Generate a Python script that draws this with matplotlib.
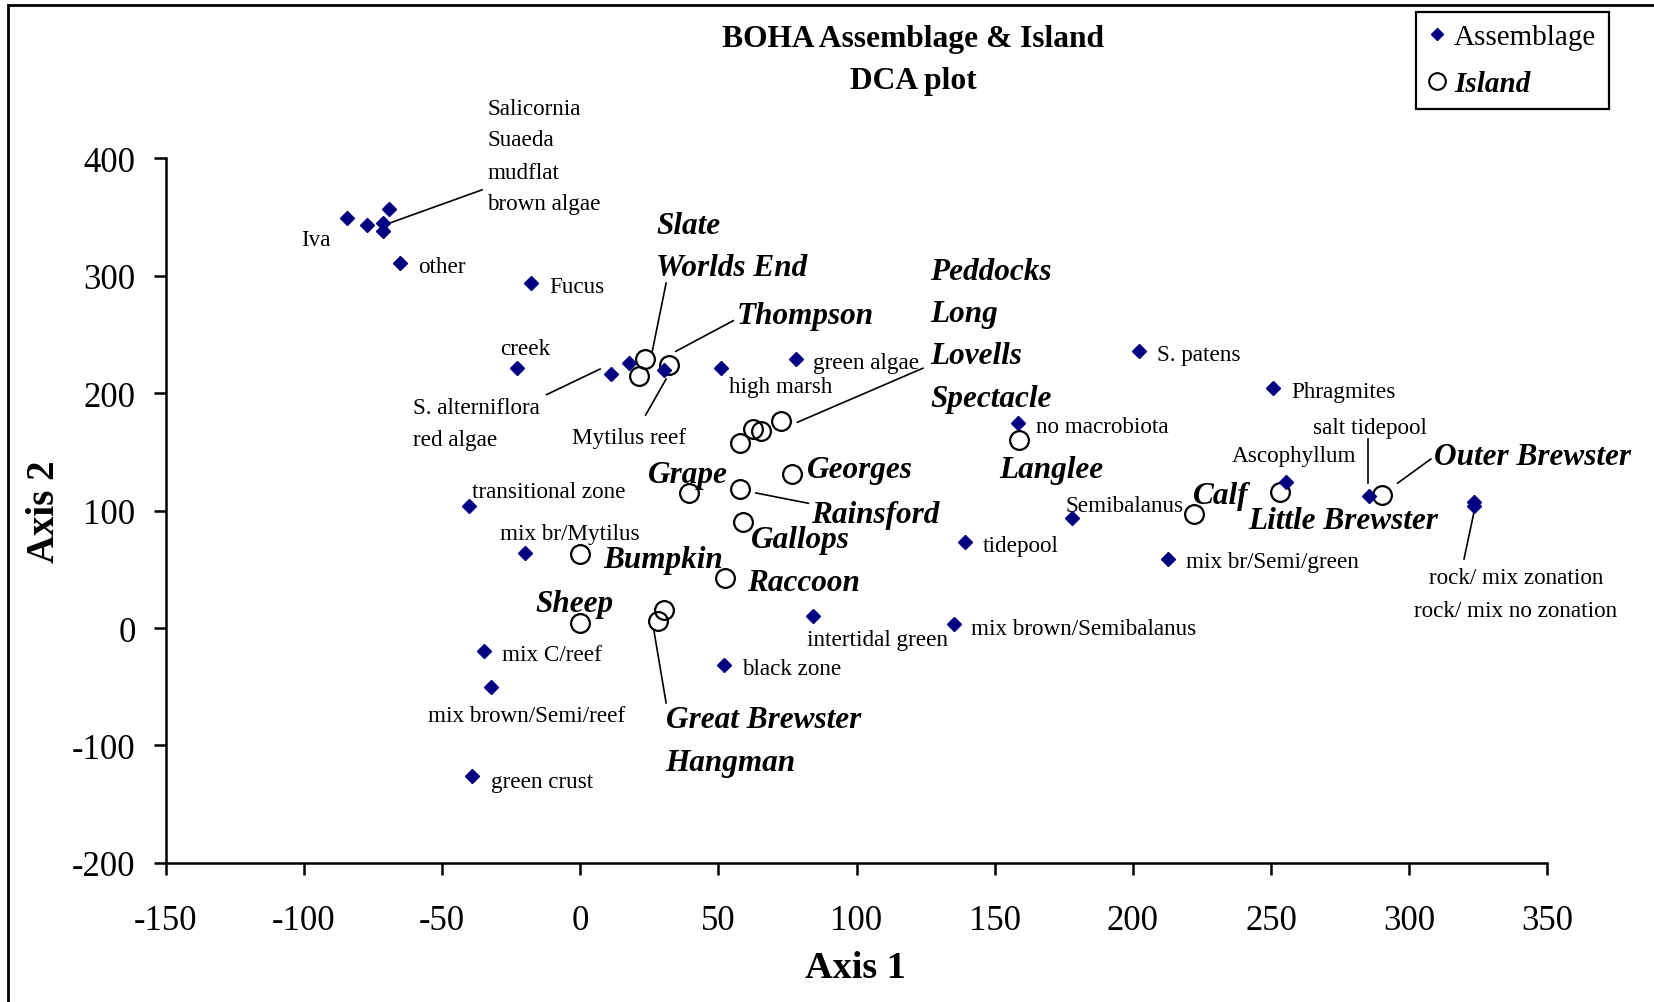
import matplotlib
matplotlib.use("Agg")
import matplotlib.pyplot as plt
import matplotlib.transforms as mtransforms
from matplotlib.lines import Line2D
from matplotlib.patches import Rectangle

plt.rcParams['font.family'] = ['Liberation Serif', 'DejaVu Serif']
plt.rcParams['axes.unicode_minus'] = False

# DCA scores
assemblage_names = ['Iva', 'Salicornia', 'Suaeda', 'mudflat', 'brown algae', 'other',
                    'Fucus', 'creek', 'S. alterniflora', 'red algae', 'Mytilus reef',
                    'high marsh', 'green algae', 'no macrobiota', 'S. patens', 'Phragmites',
                    'Ascophyllum', 'salt tidepool', 'rock/ mix zonation',
                    'rock/ mix no zonation', 'Semibalanus', 'mix br/Semi/green', 'tidepool',
                    'mix brown/Semibalanus', 'intertidal green', 'black zone',
                    'transitional zone', 'mix br/Mytilus', 'mix C/reef',
                    'mix brown/Semi/reef', 'green crust']
assemblage_x = [-84.4, -77.1, -69.1, -71.4, -71.4, -65.3, -17.6, -22.9, 11.1, 17.6, 30.2,
                51.1, 78.2, 158.4, 202.3, 250.8, 255.3, 285.5, 323.3, 323.3, 177.9, 212.6,
                139.3, 135.1, 84.4, 51.9, -40.1, -19.8, -34.7, -32.1, -39.3]
assemblage_y = [348.8, 343.4, 356.9, 345.2, 338.0, 311.0, 294.0, 221.3, 215.9, 225.7, 219.5,
                221.3, 229.3, 174.5, 235.6, 204.2, 124.2, 112.6, 107.2, 103.6, 93.7, 58.7,
                73.0, 3.0, 10.2, -31.2, 103.6, 64.1, -19.5, -50.0, -126.4]

island_names = ['Slate', 'Worlds End', 'Thompson', 'Peddocks', 'Long', 'Lovells', 'Spectacle',
                'Langlee', 'Georges', 'Grape', 'Rainsford', 'Gallops', 'Bumpkin', 'Raccoon',
                'Sheep', 'Great Brewster', 'Hangman', 'Calf', 'Little Brewster',
                'Outer Brewster']
island_x = [23.3, 21.4, 32.1, 58.0, 62.6, 65.3, 72.5, 158.8, 76.7, 39.3, 58.0, 58.8, 0.0,
            52.3, 0.0, 30.5, 28.2, 222.1, 253.1, 290.1]
island_y = [229.3, 215.0, 224.0, 157.5, 169.2, 167.4, 176.3, 160.2, 131.4, 115.3, 118.0,
            90.1, 63.2, 42.5, 3.9, 15.6, 5.7, 97.3, 116.2, 113.5]

# label placement (data coords, left aligned unless noted)
assemblage_labels = [
    ('Iva', -100.8, 333.0, 'left'),
    ('Salicornia', -33.6, 444.9, 'left'),
    ('Suaeda', -33.6, 418.0, 'left'),
    ('mudflat', -33.6, 390.1, 'left'),
    ('brown algae', -33.6, 363.2, 'left'),
    ('other', -58.8, 310.2, 'left'),
    ('Fucus', -11.1, 293.1, 'left'),
    ('creek', -29.0, 240.1, 'left'),
    ('S. alterniflora', -60.3, 189.8, 'left'),
    ('red algae', -60.3, 162.9, 'left'),
    ('Mytilus reef', -3.1, 164.7, 'left'),
    ('high marsh', 53.8, 207.8, 'left'),
    ('green algae', 84.4, 228.4, 'left'),
    ('no macrobiota', 164.9, 173.6, 'left'),
    ('S. patens', 208.8, 234.7, 'left'),
    ('Phragmites', 257.3, 203.3, 'left'),
    ('salt tidepool', 265.3, 172.7, 'left'),
    ('Ascophyllum', 235.9, 148.7, 'left'),
    ('Semibalanus', 175.6, 106.5, 'left'),
    ('mix br/Semi/green', 219.1, 58.7, 'left'),
    ('tidepool', 145.8, 72.1, 'left'),
    ('rock/ mix zonation', 338.5, 45.2, 'center'),
    ('rock/ mix no zonation', 338.5, 17.4, 'center'),
    ('transitional zone', -39.3, 118.0, 'left'),
    ('mix br/Mytilus', -29.0, 82.4, 'left'),
    ('intertidal green', 82.1, -7.8, 'left'),
    ('mix brown/Semibalanus', 141.6, 2.1, 'left'),
    ('black zone', 58.4, -32.1, 'left'),
    ('mix C/reef', -28.2, -20.4, 'left'),
    ('mix brown/Semi/reef', -55.0, -72.5, 'left'),
    ('green crust', -32.4, -128.2, 'left'),
]
island_labels = [
    ('Slate', 27.5, 345.2), ('Worlds End', 27.5, 309.3), ('Thompson', 56.5, 268.0),
    ('Peddocks', 126.7, 305.7), ('Long', 126.7, 269.8), ('Lovells', 126.7, 233.8),
    ('Spectacle', 126.7, 197.9), ('Georges', 82.1, 136.8), ('Grape', 24.4, 133.2),
    ('Langlee', 151.5, 136.8), ('Rainsford', 83.6, 99.1), ('Gallops', 61.8, 77.5),
    ('Bumpkin', 8.4, 60.5), ('Raccoon', 60.3, 40.7), ('Sheep', -16.0, 22.7),
    ('Great Brewster', 30.9, -76.1), ('Hangman', 30.9, -112.0), ('Calf', 221.8, 115.3),
    ('Little Brewster', 241.6, 93.7), ('Outer Brewster', 308.8, 148.5),
]
leaders = [
    ((-35.5, -70.6), (373.1, 343.4)),
    ((-12.1, 7.2), (198.8, 220.5)),
    ((31.1, 26.1), (293.7, 235.6)),
    ((55.4, 34.6), (261.7, 235.6)),
    ((31.1, 23.7), (212.0, 181.4)),
    ((78.6, 124.0), (175.2, 221.2)),
    ((63.6, 82.6), (115.0, 106.2)),
    ((26.7, 31.1), (-2.3, -63.8)),
    ((285.0, 285.0), (161.0, 123.4)),
    ((295.8, 307.8), (123.4, 143.9)),
    ((323.4, 319.8), (98.6, 58.8)),
]

fig = plt.figure(figsize=(16.54, 10.03), dpi=100)
ax = fig.add_axes([0.1001, 0.1387, 0.8355, 0.7025])

ax.plot(island_x, island_y, 'o', ms=13.5, mfc='none', mec='black', mew=1.6, zorder=3)
ax.plot(assemblage_x, assemblage_y, 'D', ms=6.8, color='#000080', mec='#000080', zorder=4)

for xs, ys in leaders:
    ax.plot(xs, ys, color='black', lw=1.2, zorder=2)

# labels sit a touch lower than the bbox centre
nudge = ax.transData + mtransforms.ScaledTranslation(0, -2.5 / 100, fig.dpi_scale_trans)
for txt, x, y, ha in assemblage_labels:
    ax.text(x, y, txt, fontsize=16.7, ha=ha, va='center', transform=nudge)
for txt, x, y in island_labels:
    ax.text(x, y, txt, fontsize=22.5, fontweight='bold', style='italic', ha='left',
            va='center', transform=nudge)

ax.set_xlim(-150, 350)
ax.set_ylim(-200, 400)
ax.set_xticks(range(-150, 351, 50))
ax.set_yticks(range(-200, 401, 100))
ax.spines['top'].set_visible(False)
ax.spines['right'].set_visible(False)
for s in ['left', 'bottom']:
    ax.spines[s].set_linewidth(1.8)
ax.tick_params(axis='both', direction='out', length=8.6, width=1.8, labelsize=25)
ax.tick_params(axis='x', pad=21)
ax.tick_params(axis='y', pad=13)

fig.text(855 / 1654, 1 - 969 / 1003, 'Axis 1', fontsize=27.5, fontweight='bold',
         ha='center', va='center')
fig.text(45 / 1654, 1 - 512 / 1003, 'Axis 2', fontsize=28, fontweight='bold',
         ha='center', va='center', rotation=90)
fig.text(913 / 1654, 1 - 39 / 1003, 'BOHA Assemblage & Island', fontsize=22.7,
         fontweight='bold', ha='center', va='center')
fig.text(913 / 1654, 1 - 81 / 1003, 'DCA plot', fontsize=22.7,
         fontweight='bold', ha='center', va='center')

handles = [Line2D([], [], ls='none', marker='D', ms=6, color='#000080'),
           Line2D([], [], ls='none', marker='o', ms=12, mfc='none', mec='black', mew=1.5)]
leg = fig.legend(handles, ['Assemblage', 'Island'], loc='upper left',
                 bbox_to_anchor=(1415.5 / 1654, 1 - 12.7 / 1003), borderaxespad=0,
                 fontsize=21, fancybox=False, framealpha=1, edgecolor='black',
                 borderpad=0.42, handlelength=0.6, handletextpad=0.3, labelspacing=0.68)
leg.get_frame().set_linewidth(1.6)
leg.get_texts()[1].set_fontweight('bold')
leg.get_texts()[1].set_style('italic')

# outer border of the chart area
fig.patches.append(Rectangle((8 / 1654, -0.05), 1.2, 1.05 - 6 / 1003, transform=fig.transFigure,
                             fill=False, lw=2, edgecolor='black'))

plt.savefig('out.png', dpi=100)
